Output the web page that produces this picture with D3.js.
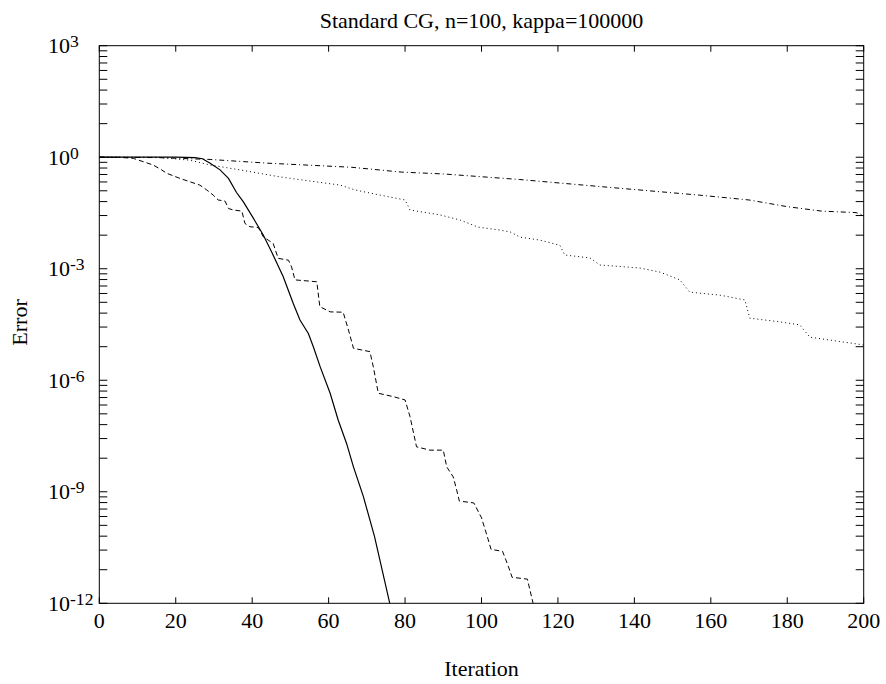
<!DOCTYPE html>
<html>
<head>
<meta charset="utf-8">
<script src="https://cdn.jsdelivr.net/npm/d3@7"></script>
<style>
  body { margin: 0; background: #fff; }
  text { font-family: "Liberation Serif", "Times New Roman", serif; fill: #000; }
</style>
</head>
<body>
<div id="chart"></div>
<script>
// chart text
const chartTitle = "Standard CG, n=100, kappa=100000";
const xLabel = "Iteration";
const yLabel = "Error";
const xTicks = [0, 20, 40, 60, 80, 100, 120, 140, 160, 180, 200];
const yMajorExp = [3, 0, -3, -6, -9, -12];

// series: [iteration, log10(error)]
const solidSeries = [
  [0, 0], [10, 0], [20, 0], [25, -0.01], [27, -0.04], [29, -0.16], [31.6, -0.34],
  [33.8, -0.57], [35.9, -0.95], [37.7, -1.2], [40.3, -1.64], [42.9, -2.09],
  [45.1, -2.55], [48.1, -3.21], [50.8, -3.95], [52.5, -4.38], [54.7, -4.74],
  [56, -5.1], [57.8, -5.64], [60.4, -6.35], [62.5, -7.07], [64.7, -7.7],
  [66.5, -8.33], [69.1, -9.13], [72, -10.2], [76, -12]
];
const dashedSeries = [
  [0, 0], [5, 0], [8.9, -0.03], [11.5, -0.12], [14.1, -0.21], [16.3, -0.34],
  [17.6, -0.43], [21.1, -0.57], [23.7, -0.66], [26.3, -0.75], [28.1, -0.88],
  [29.8, -1.02], [31.1, -1.15], [32.9, -1.18], [33.8, -1.38], [35.1, -1.42],
  [37.3, -1.45], [38.1, -1.78], [39.4, -1.87], [41.6, -1.89], [42.9, -2.14],
  [44.2, -2.23], [45.5, -2.32], [46.8, -2.72], [49.5, -2.77], [50.3, -2.95],
  [51.2, -3.3], [56.9, -3.35], [57.7, -4.02], [60.4, -4.16], [63.8, -4.17],
  [65.2, -4.65], [66.5, -5.14], [70.8, -5.23], [71.7, -5.64], [73, -6.35],
  [76.9, -6.44], [80, -6.53], [81.3, -6.98], [83, -7.79], [86.5, -7.88],
  [90, -7.88], [90.9, -8.33], [92.6, -8.6], [93.5, -8.95], [94.2, -9.25],
  [98, -9.3], [100, -9.7], [101.5, -10.2], [102.5, -10.55], [105.5, -10.6],
  [107, -11], [108, -11.3], [112, -11.35], [113.5, -12]
];
const dottedSeries = [
  [0, 0], [15, 0], [23.7, -0.08], [29, -0.21], [36.8, -0.34], [47.3, -0.53],
  [55.1, -0.64], [63, -0.75], [66.9, -0.88], [73.5, -1.02], [80, -1.15],
  [81.3, -1.42], [89.1, -1.55], [94.4, -1.69], [99.1, -1.88], [104.8, -1.96],
  [107.5, -2.01], [110.1, -2.15], [115.3, -2.23], [120.5, -2.37], [121.8, -2.63],
  [128.4, -2.71], [131, -2.9], [141.4, -2.98], [146.7, -3.09], [151.9, -3.3],
  [154.5, -3.63], [162.4, -3.71], [168.9, -3.84], [170.2, -4.33], [178.1, -4.43],
  [183.3, -4.51], [185.9, -4.84], [191.2, -4.92], [200, -5.05]
];
const dashDotSeries = [
  [0, 0], [15, -0.01], [29, -0.06], [44, -0.16], [66, -0.27], [79, -0.4],
  [90, -0.45], [110, -0.6], [130, -0.78], [157, -1.02], [170, -1.15],
  [180, -1.33], [189, -1.45], [198, -1.49], [200, -1.56]
];

const width = 886, height = 684;
const margin = { top: 45.7, right: 22.3, bottom: 80.7, left: 99.3 };

const svg = d3.select("#chart").append("svg")
  .attr("width", width)
  .attr("height", height);

const x = d3.scaleLinear().domain([0, 200]).range([margin.left, width - margin.right]);
const y = d3.scaleLog().domain([1e-12, 1e3]).range([height - margin.bottom, margin.top]);

// clip to plot area
svg.append("defs").append("clipPath").attr("id", "plotclip")
  .append("rect")
  .attr("x", margin.left).attr("y", margin.top)
  .attr("width", x.range()[1] - x.range()[0])
  .attr("height", y.range()[0] - y.range()[1]);

// minor tick positions: gnuplot style, log10(k) steps inside each 3-decade span
const yMinor = [];
for (let i = 0; i < yMajorExp.length - 1; i++) {
  const lo = yMajorExp[i + 1];
  for (let k = 2; k <= 9; k++) yMinor.push(Math.pow(10, lo + 3 * Math.log10(k)));
}
const yMajor = yMajorExp.map(e => Math.pow(10, e));

const ticks = svg.append("g").attr("stroke", "#000").attr("stroke-width", 1);
const x0 = x.range()[0], x1 = x.range()[1], yb = y.range()[0], yt = y.range()[1];

// y ticks on both sides
ticks.selectAll(".ytl").data(yMajor.concat(yMinor)).join("line")
  .attr("x1", x0).attr("x2", x0 + 8)
  .attr("y1", d => y(d)).attr("y2", d => y(d));
ticks.selectAll(".ytr").data(yMajor.concat(yMinor)).join("line")
  .attr("x1", x1).attr("x2", x1 - 8)
  .attr("y1", d => y(d)).attr("y2", d => y(d));
// x ticks on bottom and top
ticks.selectAll(".xtb").data(xTicks).join("line")
  .attr("x1", d => x(d)).attr("x2", d => x(d))
  .attr("y1", yb).attr("y2", yb - 6);
ticks.selectAll(".xtt").data(xTicks).join("line")
  .attr("x1", d => x(d)).attr("x2", d => x(d))
  .attr("y1", yt).attr("y2", yt + 6);

// series
const line = d3.line()
  .x(d => x(d[0]))
  .y(d => y(Math.pow(10, d[1])));

const series = [
  { data: solidSeries, dash: null, w: 1.2 },
  { data: dashedSeries, dash: "5,3", w: 1 },
  { data: dottedSeries, dash: "1,3", w: 1 },
  { data: dashDotSeries, dash: "5,3,1,3", w: 1 }
];

const lines = svg.append("g").attr("clip-path", "url(#plotclip)");
lines.selectAll("path").data(series).join("path")
  .attr("fill", "none")
  .attr("stroke", "#000")
  .attr("stroke-width", d => d.w)
  .attr("stroke-dasharray", d => d.dash)
  .attr("d", d => line(d.data));

// frame
svg.append("rect")
  .attr("x", x0).attr("y", yt)
  .attr("width", x1 - x0).attr("height", yb - yt)
  .attr("fill", "none").attr("stroke", "#000").attr("stroke-width", 1);

// x tick labels
svg.append("g").selectAll("text").data(xTicks).join("text")
  .attr("x", d => x(d))
  .attr("y", yb + 25)
  .attr("text-anchor", "middle")
  .style("font-size", "22px")
  .text(d => d);

// y tick labels 10^k
const yl = svg.append("g").selectAll("text").data(yMajorExp).join("text")
  .attr("x", 48)
  .attr("y", d => y(Math.pow(10, d)) + 7.5)
  .style("font-size", "22px");
yl.append("tspan").text("10");
yl.append("tspan")
  .attr("dy", -6)
  .style("font-size", "17.6px")
  .text(d => d);

// title and axis labels
svg.append("text")
  .attr("x", (x0 + x1) / 2).attr("y", 28)
  .attr("text-anchor", "middle")
  .style("font-size", "22px")
  .text(chartTitle);

svg.append("text")
  .attr("x", (x0 + x1) / 2).attr("y", 676)
  .attr("text-anchor", "middle")
  .style("font-size", "22px")
  .text(xLabel);

svg.append("text")
  .attr("transform", "translate(27," + ((yt + yb) / 2 - 2) + ") rotate(-90)")
  .attr("text-anchor", "middle")
  .style("font-size", "22px")
  .text(yLabel);
</script>
</body>
</html>
